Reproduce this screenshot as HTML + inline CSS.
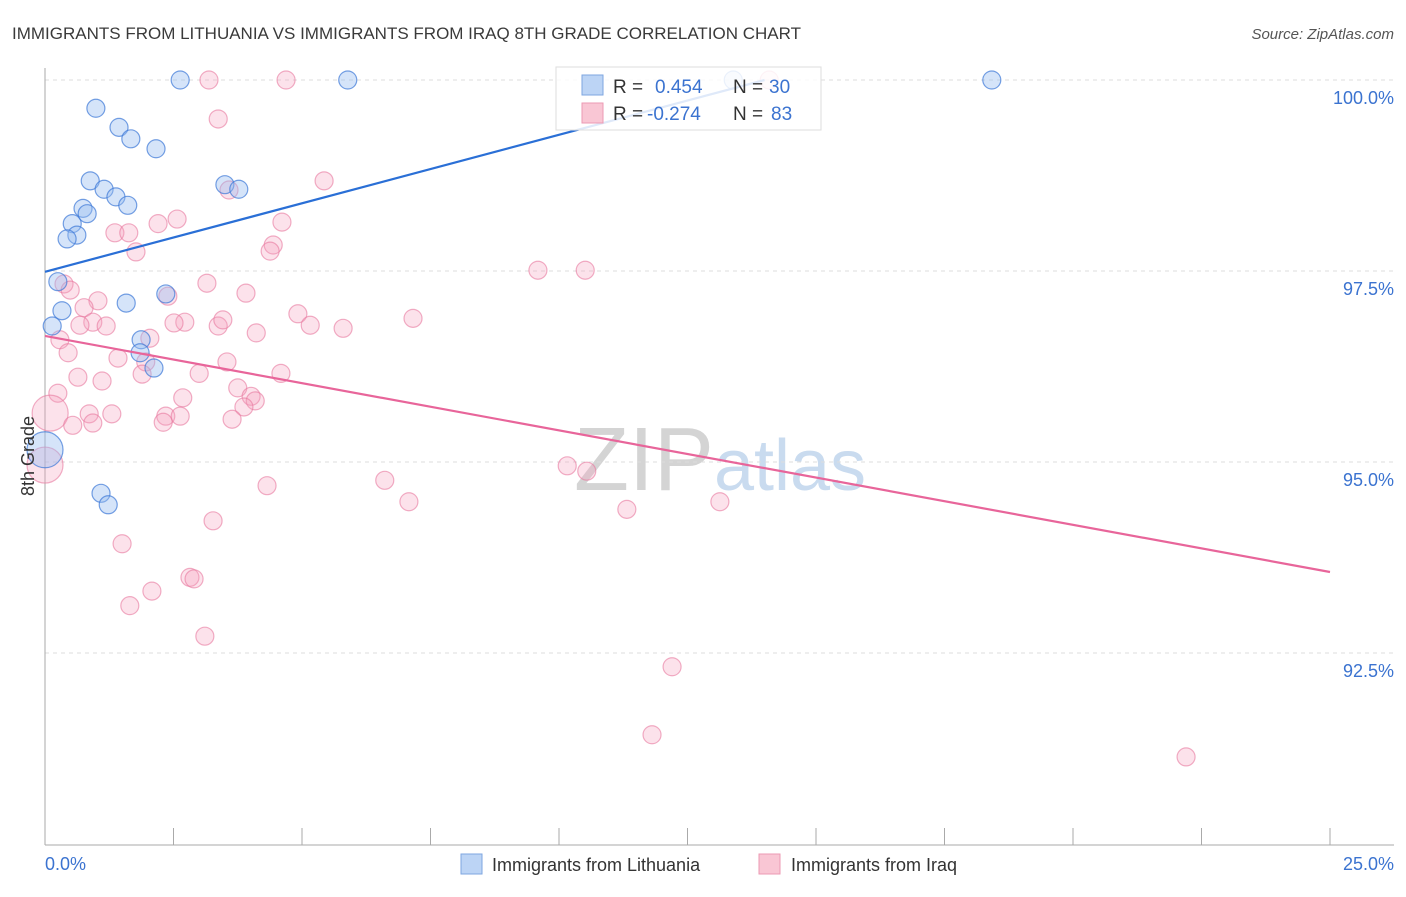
<!DOCTYPE html>
<html><head><meta charset="utf-8"><style>
body{margin:0;background:#fff;font-family:"Liberation Sans",sans-serif}
svg text{font-family:"Liberation Sans",sans-serif}
</style></head><body>
<svg id="chart" width="1406" height="892" xmlns="http://www.w3.org/2000/svg">
<text x="12" y="39" font-size="17" fill="#3a3a3a">IMMIGRANTS FROM LITHUANIA VS IMMIGRANTS FROM IRAQ 8TH GRADE CORRELATION CHART</text>
<text x="1394" y="39" font-size="15" fill="#555" text-anchor="end" font-style="italic">Source: ZipAtlas.com</text>
<text x="720" y="490" font-size="90" text-anchor="middle" fill="#ddd" font-family="Liberation Serif"><tspan fill="#d4d4d4">ZIP</tspan><tspan fill="#c9dbef" font-family="Liberation Sans" font-size="72">atlas</tspan></text>
<g id="grid"></g>
<g id="axes"></g>
<g id="pts"></g>
<g id="lines"></g>
<text transform="translate(34,456) rotate(-90)" font-size="18" fill="#333" text-anchor="middle">8th Grade</text>
<text x="45" y="870" font-size="18" fill="#3b73d0">0.0%</text>
<text x="1394" y="870" font-size="18" fill="#3b73d0" text-anchor="end">25.0%</text>
<g>
<rect x="556" y="67" width="265" height="63" fill="rgba(255,255,255,0.85)" stroke="#ddd"/>
<rect x="582" y="75" width="21" height="20" fill="#bcd4f5" stroke="#7ea6e0"/>
<rect x="582" y="103" width="21" height="20" fill="#f9c6d4" stroke="#ec9ab3"/>
<text x="613" y="93" font-size="19" fill="#333">R = </text><text x="655" y="93" font-size="19" fill="#3b73d0">0.454</text>
<text x="733" y="93" font-size="19" fill="#333">N = </text><text x="769" y="93" font-size="19" fill="#3b73d0">30</text>
<text x="613" y="120" font-size="19" fill="#333">R = </text><text x="647" y="120" font-size="19" fill="#3b73d0">-0.274</text>
<text x="733" y="120" font-size="19" fill="#333">N = </text><text x="771" y="120" font-size="19" fill="#3b73d0">83</text>
</g>
<g>
<rect x="461" y="854" width="21" height="20" fill="#bcd4f5" stroke="#7ea6e0"/>
<text x="492" y="871" font-size="18" fill="#333">Immigrants from Lithuania</text>
<rect x="759" y="854" width="21" height="20" fill="#f9c6d4" stroke="#ec9ab3"/>
<text x="791" y="871" font-size="18" fill="#333">Immigrants from Iraq</text>
</g>
</svg>
<script>
const yTicks=[100,97.5,95,92.5];
const yTickLabels=["100.0%","97.5%","95.0%","92.5%"];
const xTicks=[0,2.5,5,7.5,10,12.5,15,17.5,20,22.5,25];
const lithX=[2.63,5.89,13.39,18.42,0.99,1.44,1.67,2.16,0.88,1.15,1.38,1.61,3.50,3.77,0.74,0.82,0.53,0.62,0.43,0.25,1.58,2.35,0.33,0.14,1.87,1.85,2.12,0,1.09,1.23];
const lithY=[100,100,100,100,99.63,99.38,99.23,99.10,98.68,98.57,98.47,98.36,98.63,98.57,98.32,98.25,98.12,97.97,97.92,97.36,97.08,97.20,96.98,96.78,96.60,96.43,96.23,95.16,94.59,94.44];
const lithBig=[0,0,0,0,0,0,0,0,0,0,0,0,0,0,0,0,0,0,0,0,0,0,0,0,0,0,0,1,0,0];
const iraqX=[3.19,4.69,14.09,3.37,5.43,3.58,2.57,2.20,4.61,1.36,1.63,4.44,4.38,1.77,9.59,10.51,0.37,0.49,3.15,3.91,2.39,1.03,0.76,4.92,0.93,1.19,0.68,2.72,2.51,3.37,3.46,5.16,5.80,7.16,4.11,2.04,0.29,0.45,1.42,1.96,3.54,3.00,4.59,0.64,1.11,1.89,3.75,2.68,4.01,4.09,3.87,0.25,0.10,0.86,1.30,2.35,2.63,2.30,3.64,0.54,0.93,0,10.16,10.54,6.61,4.32,7.08,13.13,11.32,3.27,1.50,2.82,2.90,1.65,2.08,3.11,12.20,11.81,22.20];
const iraqY=[100,100,100,99.49,98.68,98.56,98.18,98.12,98.14,98.00,98.00,97.84,97.76,97.75,97.51,97.51,97.33,97.25,97.34,97.21,97.17,97.11,97.02,96.94,96.83,96.78,96.79,96.83,96.82,96.78,96.86,96.79,96.75,96.88,96.69,96.62,96.60,96.43,96.36,96.31,96.31,96.16,96.16,96.11,96.06,96.15,95.97,95.84,95.86,95.80,95.72,95.90,95.64,95.63,95.63,95.60,95.60,95.52,95.56,95.48,95.51,94.96,94.95,94.88,94.76,94.69,94.48,94.48,94.38,94.23,93.93,93.49,93.47,93.12,93.31,92.72,92.32,91.43,91.14];
const iraqBig=iraqX.map((v,i)=>(i===52||i===61)?1:0);
const lithTrend=[[0,97.49],[14,100]];
const iraqTrend=[[0,96.65],[25,93.56]];

const NS="http://www.w3.org/2000/svg";
const X=v=>45+v*51.4, Y=v=>80+(100-v)*76.4;
function mk(tag,attrs,parent){const e=document.createElementNS(NS,tag);for(const k in attrs)e.setAttribute(k,attrs[k]);parent.appendChild(e);return e;}
const grid=document.getElementById('grid'),axes=document.getElementById('axes'),pts=document.getElementById('pts'),lines=document.getElementById('lines');
yTicks.forEach((t,i)=>{
 const l=mk('line',{x1:45,x2:1394,y1:Y(t),y2:Y(t),stroke:'#ddd','stroke-dasharray':'4,4'},grid);
 
 
 const tx=mk('text',{x:1394,y:Y(t)+24,'font-size':18,fill:'#3b73d0','text-anchor':'end'},grid);
 tx.textContent=yTickLabels[i];
 
 
});
const ya=mk('line',{x1:45,x2:45,y1:68,y2:845,stroke:'#aaa'},axes);


const xa=mk('line',{x1:45,x2:1394,y1:845,y2:845,stroke:'#aaa'},axes);


xTicks.forEach(t=>{
 const l=mk('line',{x1:X(t),x2:X(t),y1:828,y2:845,stroke:'#aaa'},axes);
 
 
});
iraqX.forEach((v,i)=>{
 const c=mk('circle',{cx:X(v),cy:Y(iraqY[i]),r:iraqBig[i]?18:9,fill:'rgba(244,160,188,0.3)',stroke:'rgba(232,120,158,0.6)','stroke-width':1.2},pts);
 
 
});
lithX.forEach((v,i)=>{
 const c=mk('circle',{cx:X(v),cy:Y(lithY[i]),r:lithBig[i]?18:9,fill:'rgba(150,188,240,0.4)',stroke:'rgba(60,120,215,0.7)','stroke-width':1.2},pts);
 
 
});
const lt=mk('line',{x1:X(lithTrend[0][0]),y1:Y(lithTrend[0][1]),x2:X(lithTrend[1][0]),y2:Y(lithTrend[1][1]),stroke:'#2a6fd6','stroke-width':2.2},lines);


const it=mk('line',{x1:X(iraqTrend[0][0]),y1:Y(iraqTrend[0][1]),x2:X(iraqTrend[1][0]),y2:Y(iraqTrend[1][1]),stroke:'#e8659a','stroke-width':2.2},lines);


</script>
</body></html>
